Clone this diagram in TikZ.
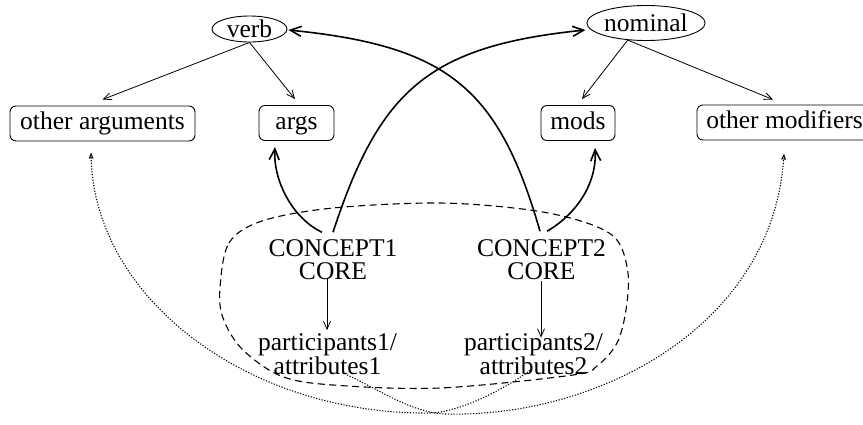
\documentclass[tikz,border=0pt]{standalone}
\usepackage{fontspec}
\setmainfont{Liberation Serif}
\usetikzlibrary{arrows.meta,shapes.geometric}
\begin{document}
\begin{tikzpicture}[x=1pt,y=-1pt,
  every node/.style={font=\fontsize{25.5}{23}\selectfont},
  oval/.style={draw, ellipse, line width=0.9pt, inner sep=0pt},
  tag/.style={draw, rounded corners=6pt, line width=0.9pt, inner sep=0pt,
    minimum height=35pt, text height=17.5pt, text depth=5.5pt},
  core/.style={align=center, inner sep=0pt},
  part/.style={align=center, inner sep=0pt, font=\fontsize{25.5}{20}\selectfont},
  link/.style={line width=0.8pt, -{Straight Barb[length=8pt,width=7pt]}},
  bendarrow/.style={line width=1.6pt, -{Straight Barb[length=11pt,width=10pt]}},
  hint/.style={line width=1.05pt, dash pattern=on 1.2pt off 1.6pt,
    -{Triangle[open,length=6pt,width=4.5pt]}},
  group/.style={line width=1.1pt, dash pattern=on 7pt off 4.5pt}]
\useasboundingbox (0,0) rectangle (863,424);
\clip (0,0) rectangle (863,424);

% heads
\node[oval, minimum width=75pt, minimum height=26pt] (verb) at (249.5,29) {verb};
\node[oval, minimum width=114pt, minimum height=35pt] (nominal) at (646,23) {nominal};

% slots
\node[tag, minimum width=185pt] (otherarg) at (102.5,123.5) {other arguments};
\node[tag, minimum width=75pt] (args) at (296.5,123) {args};
\node[tag, minimum width=74pt] (mods) at (578,123) {mods};
\node[tag, minimum width=175pt] (othermod) at (784.5,122.5) {other modifiers};

% concepts
\node[core] (c1) at (333,259.5) {CONCEPT1\\CORE};
\node[core] (c2) at (541.5,259.5) {CONCEPT2\\CORE};
\node[part] (p1) at (327.5,354) {participants1/\\attributes1};
\node[part] (p2) at (533.5,354) {participants2/\\attributes2};

% grouping of the two concepts
\draw[group] plot[smooth cycle, tension=0.55] coordinates {
  (220,288) (229,243) (262,221) (333,208) (440,203) (530,210) (587,223)
  (617,240) (628,273) (626,310) (617,343) (597,366) (573,375) (440,388)
  (333,385) (281,376) (242,349) (223,318)};

% head to slot arrows
\draw[link] (verb.south) -- ([yshift=6pt]otherarg.north);
\draw[link] (verb.south) -- ([xshift=-1.5pt,yshift=6pt]args.north);
\draw[link] (nominal.223) -- ([xshift=4pt,yshift=6pt]mods.north);
\draw[link] (nominal.223) -- ([xshift=-11.5pt,yshift=5pt]othermod.north);

% core to participants
\draw[link] ([xshift=-6pt,yshift=2pt]c1.south) -- ([xshift=-0.5pt,yshift=3pt]p1.north);
\draw[link] ([xshift=-0.5pt,yshift=-1pt]c2.south) -- ([xshift=7.5pt,yshift=-4.5pt]p2.north);

% cores to heads and slots
\draw[bendarrow] ([xshift=-11pt,yshift=7pt]c1.north)
  .. controls (292,218) and (273,180) .. ([xshift=-21.5pt,yshift=-6pt]args.south);
\draw[bendarrow] ([yshift=7pt]c1.north)
  .. controls (379.5,90.5) and (428,46) .. ([xshift=-1pt,yshift=-7pt]nominal.west);
\draw[bendarrow] ([xshift=-1.5pt,yshift=8pt]c2.north)
  .. controls (498.75,88) and (448,46) .. ([xshift=1pt,yshift=-1pt]verb.east);
\draw[bendarrow] ([xshift=5.5pt,yshift=8pt]c2.north)
  .. controls (575,215) and (597,185) .. ([xshift=17pt,yshift=-7pt]mods.south);

% participants to the other slots
\draw[hint] ([xshift=19.5pt]p1.south)
  .. controls (380,390) and (410,412) .. (445,414)
  .. controls (600,418) and (772,325) .. ([xshift=-0.5pt,yshift=-13pt]othermod.south);
\draw[hint] ([xshift=-3.5pt,yshift=4.5pt]p2.south)
  .. controls (515,382) and (465,412) .. (430,413)
  .. controls (250,415) and (95,300) .. ([xshift=-11.5pt,yshift=-11pt]otherarg.south);
\end{tikzpicture}
\end{document}
